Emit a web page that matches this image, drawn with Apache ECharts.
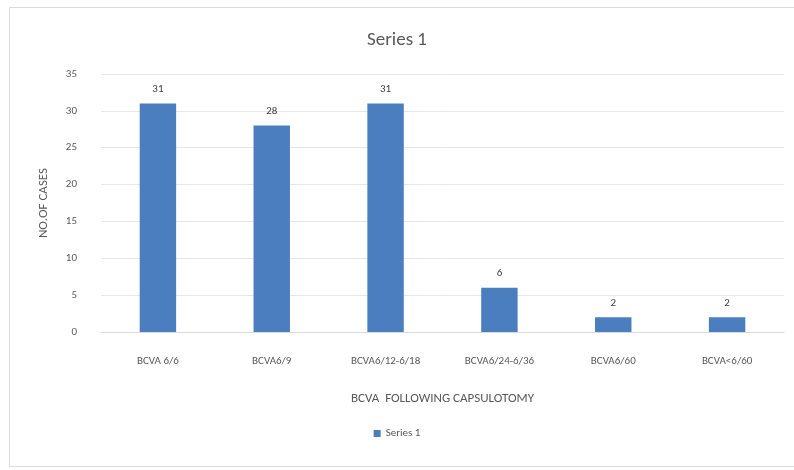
<!DOCTYPE html>
<html><head><meta charset="utf-8">
<script src="https://cdn.jsdelivr.net/npm/echarts@6/dist/echarts.min.js"></script>
<style>html,body{margin:0;padding:0;background:#fff}#c{width:794px;height:470px}</style>
</head><body><div id="c"></div>
<script>
const categories = ['BCVA 6/6','BCVA6/9','BCVA6/12-6/18','BCVA6/24-6/36','BCVA6/60','BCVA<6/60'];
const values = [31, 28, 31, 6, 2, 2];
const seriesName = 'Series 1';
const chart = echarts.init(document.getElementById('c'));
const font = 'Calibri, Carlito, "Liberation Sans", "Open Sans", sans-serif';
chart.setOption({
  backgroundColor: '#fff',
  graphic: [{type:'rect', shape:{x:9.5,y:7.5,width:800,height:459}, style:{fill:'none', stroke:'#dcdcdc', lineWidth:1}}],
  title: {text: seriesName, left: 'center', top: 26, textStyle:{fontFamily:font, fontSize:19, fontWeight:'normal', color:'#595959'}},
  grid: {left: 101, right: 10, top: 74, bottom: 138},
  legend: {bottom: 26, left:'center', itemWidth:7, itemHeight:7, icon:'rect', textStyle:{fontFamily:font, fontSize:11, color:'#595959'}, data:[seriesName]},
  xAxis: {type:'category', data: categories, name:'BCVA  FOLLOWING CAPSULOTOMY', nameLocation:'middle', nameGap:60,
    nameTextStyle:{fontFamily:font, fontSize:13, color:'#595959'},
    axisTick:{show:false}, axisLine:{lineStyle:{color:'#d9d9d9'}},
    axisLabel:{fontFamily:font, fontSize:11, color:'#595959', margin:24, interval:0}},
  yAxis: {type:'value', min:0, max:35, interval:5, name:'NO.OF CASES', nameLocation:'middle', nameGap:51,
    nameTextStyle:{fontFamily:font, fontSize:13, color:'#595959'},
    axisLabel:{fontFamily:font, fontSize:11, color:'#595959', margin:24},
    splitLine:{lineStyle:{color:'#e6e6e6'}}, axisLine:{show:false}, axisTick:{show:false}},
  series: [{name: seriesName, type:'bar', data: values, barWidth:'32%',
    itemStyle:{color:'#4a7ebf'},
    label:{show:true, position:'top', distance:9, fontFamily:font, fontSize:11, color:'#404040'}}]
});
</script></body></html>
